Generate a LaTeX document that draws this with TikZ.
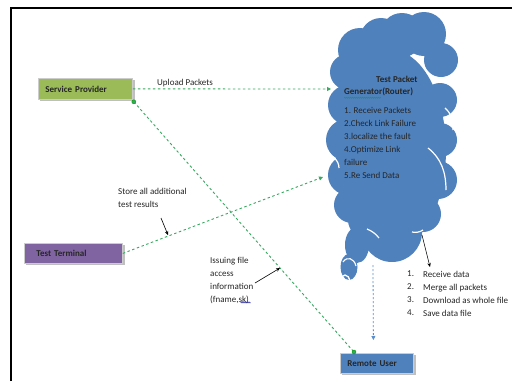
\documentclass[tikz,border=0pt]{standalone}
\usepackage{fontspec}
\setmainfont{Carlito}
\usetikzlibrary{arrows.meta,decorations.pathmorphing}
\definecolor{cblue}{HTML}{4F81BD}
\definecolor{cgreen}{HTML}{9BBB59}
\definecolor{cpurple}{HTML}{8064A2}
\definecolor{lgreen}{HTML}{35A95E}
\definecolor{ltblue}{HTML}{5B8FD0}
\definecolor{txt}{HTML}{262626}
\tikzset{
  boxnode/.style={anchor=north west, draw=white!80!black, line width=0.8pt, align=left,
     inner ysep=0pt, font=\fontsize{9}{11}\selectfont\bfseries, text=txt},
  gdash/.style={lgreen, line width=0.9pt, dash pattern=on 2.5pt off 2.5pt},
  gtip/.style={-{Triangle[length=4pt,width=4pt]}},
  ptr/.style={black, line width=0.6pt, -{Stealth[length=4pt,width=3.5pt]}},
  lbl/.style={anchor=west, align=left, inner sep=0pt, text=txt, font=\fontsize{9}{13}\selectfont},
  gdot/.style={circle, fill=lgreen, draw=green!60!black, inner sep=0pt, minimum size=4pt},
  squig/.style={decorate, decoration={zigzag, amplitude=0.6pt, segment length=2pt}, line width=0.4pt}
}
\def\cloudshapes{
  (391,150) ellipse [x radius=55, y radius=100]
  (360,50) circle [radius=22]
  (381,39) circle [radius=21]
  (402,35) circle [radius=22]
  (424,34) circle [radius=22]
  (441,60) circle [radius=17]
  (440,100) circle [radius=17]
  (440,140) circle [radius=17]
  (438,180) circle [radius=19]
  (423,214) circle [radius=18]
  (392,232) circle [radius=30]
  (366,220) circle [radius=18]
  (348,72) circle [radius=18]
  (348,105) circle [radius=20]
  (347,140) circle [radius=21]
  (348,175) circle [radius=20]
  (352,205) circle [radius=18]
  (357,245) ellipse [x radius=12, y radius=18]
  (349,267) ellipse [x radius=8.5, y radius=13]
}
\begin{document}
\begin{tikzpicture}[x=1pt,y=-1pt]
\useasboundingbox (0,0) rectangle (512,381);
\fill[white] (0,0) rectangle (512,381);
\draw[line width=2pt] (11,381) -- (11,8) -- (512,8);

% cloud
\draw[white, line width=3pt] \cloudshapes;
\fill[cblue] \cloudshapes;
\draw[white, line width=1.3pt] (345,281) ellipse [x radius=4.5, y radius=6];
\draw[white, line width=1.1pt] (343,262) .. controls (347,256) and (354,258) .. (356,266);
\draw[white, line width=1.2pt] (428,148) .. controls (441,158) and (446,172) .. (446,190);
\draw[white, line width=1.2pt] (445,108) .. controls (451,113) and (453,120) .. (453,130);
\draw[white, line width=1.2pt] (367,229) .. controls (372,231) and (376,234) .. (379,238);
\draw[white, line width=1.2pt] (334,158) .. controls (337,160) and (339,164) .. (339,168);
\draw[white, line width=1.2pt] (412,232) .. controls (416,233) and (420,232) .. (423,230);
\coordinate (cin1) at (331,89);
\coordinate (cin2) at (323,177);
\coordinate (cbot) at (373,265);
\coordinate (cout) at (422,235);

% cloud text
\node[lbl, font=\fontsize{9}{13}\selectfont\bfseries] (t1) at (376,79) {Test Packet};
\node[lbl, font=\fontsize{9}{13}\selectfont\bfseries] (t2) at (344,92) {Generator(Router)};
\draw[squig, green!70!black] ([yshift=-1.5pt]t2.south west) -- ++(37,0);
\node[lbl, anchor=north west] (t3) at (344,107.5) {1. Receive Packets\\2.Check Link Failure\\3.localize the fault\\4.Optimize Link\\failure\\5.Re Send Data};

% boxes
\fill[black!25] (40,80) rectangle (134.5,101);
\node[boxnode, fill=cgreen, minimum width=94pt, minimum height=21pt, text width=80pt, inner xsep=7pt] (sp) at (38,78) {Service Provider};
\fill[black!25] (26,245) rectangle (124.5,265);
\node[boxnode, fill=cpurple, minimum width=98pt, minimum height=20pt, text width=74pt, inner xsep=12pt] (tt) at (24,243) {Test Terminal};
\fill[black!25] (342,355) rectangle (415.5,375);
\node[boxnode, fill=cblue, minimum width=73pt, minimum height=20pt, text width=59pt, inner xsep=7pt] (ru) at (340,353) {Remote User};

% connectors
\draw[gdash, gtip] (sp.east) -- (cin1);
\node[lbl] (up) at (157,83) {Upload Packets};
\draw[gdash, gtip] (tt.east) -- (cin2);
\draw[gdash] ([xshift=1pt,yshift=-2pt]sp.south east) -- ([xshift=14pt,yshift=1pt]ru.north west);
\node[gdot] (d1) at ([xshift=1pt,yshift=-2pt]sp.south east) {};
\node[gdot] (d2) at ([xshift=14pt,yshift=1pt]ru.north west) {};
\draw[ltblue, line width=0.8pt, dash pattern=on 2pt off 2pt, -{Triangle[length=4pt,width=4pt]}] (cbot) -- ([xshift=-3.5pt,yshift=13pt]ru.north);

% labels and pointers
\node[lbl, anchor=north west] (st) at (118,188) {Store all additional\\test results};
\coordinate (p1s) at (161,218);
\coordinate (p1e) at (168,235);
\draw[ptr] (p1s) -- (p1e);
\node[lbl, anchor=north west] (is) at (210,257) {Issuing file\\access\\information\\(fname,sk)};
\draw[squig, blue!60!black] ([xshift=30.5pt,yshift=1.5pt]is.south west) -- ++(10,0);
\coordinate (p2s) at (255,283);
\coordinate (p2e) at (280,268);
\draw[ptr] (p2s) -- (p2e);
\coordinate (p3e) at (430,267);
\draw[ptr] (cout) -- (p3e);
\node[lbl, anchor=north west] (nums) at (407,271) {1.\\2.\\3.\\4.};
\node[lbl, anchor=north west] (lst) at (423,271) {Receive data\\Merge all packets\\Download as whole file\\Save data file};
\end{tikzpicture}
\end{document}
